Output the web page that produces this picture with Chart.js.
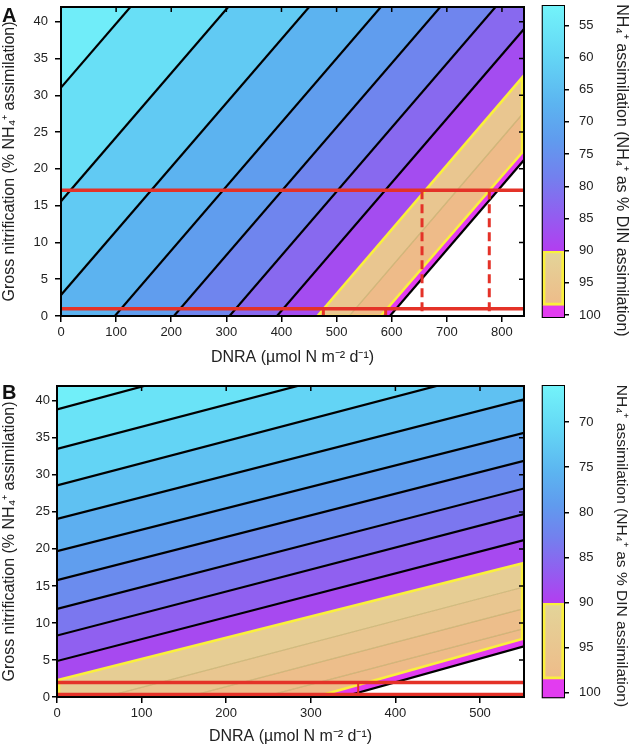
<!DOCTYPE html>
<html>
<head>
<meta charset="utf-8">
<script src="https://cdn.jsdelivr.net/npm/chart.js@4.4.1/dist/chart.umd.min.js"></script>
<style>
  html, body { margin: 0; padding: 0; background: #fff; }
  #fig { position: relative; width: 632px; height: 749px; overflow: hidden; font-family: "Liberation Sans", Arial, sans-serif; }
  #fig canvas { position: absolute; }
  .letter { position: absolute; font-weight: bold; font-size: 20px; line-height: 20px; color: #111; }
</style>
</head>
<body>
<div id="fig">
  <canvas id="plotA" width="534" height="370" style="left:0;top:0"></canvas>
  <canvas id="barA" width="102" height="345" style="left:530px;top:0"></canvas>
  <canvas id="plotB" width="534" height="370" style="left:0;top:379px"></canvas>
  <canvas id="barB" width="102" height="345" style="left:530px;top:370px"></canvas>
  <div class="letter" style="left:2px;top:5px">A</div>
  <div class="letter" style="left:2px;top:382px">B</div>
</div>
<script>
// Panel A - contour levels (% NH4+ assimilation) and the gross nitrification
// value of each contour line at DNRA = 0 and at DNRA = 840
const levelsA = [55, 60, 65, 70, 75, 80, 85, 90, 95, 98.5, 100];
const nitrifStartA = [31.05, 15.6, 2.85, -8.5, -17.8, -26.6, -34.1, -40.6, -45.7, -50.2, -52.0];
const nitrifEndA = [104.1, 88.7, 75.9, 64.6, 55.2, 46.5, 39.0, 32.7, 27.7, 22.5, 21.2];
const dnraMaxA = 840;
const redNitrifA = [17.1, 1.0];
const dropDnraA = [476, 589, 655, 777];
const dropTopA = [1.0, 1.0, 17.1, 17.1];
const dropBottomA = [0, 0, 0, 0];
const dnraTicksA = [0, 100, 200, 300, 400, 500, 600, 700, 800];
const barRangeA = [52, 100.3];
const barTicksA = [55, 60, 65, 70, 75, 80, 85, 90, 95, 100];

// Panel B - same, lines given at DNRA = 0 and DNRA = 552
const levelsB = [67.5, 70, 72.5, 75, 77.5, 80, 82.5, 85, 87.5, 90, 92.5, 95, 97.5, 98.5, 100];
const nitrifStartB = [38.84, 33.51, 28.57, 24.05, 19.69, 15.77, 11.89, 8.3, 4.86, 2.26, -1.7, -4.6, -7.3, -9.74, -10.8];
const nitrifEndB = [55.8, 50.0, 45.1, 40.19, 35.68, 31.89, 28.16, 24.69, 21.18, 18.1, 14.86, 11.95, 9.24, 7.89, 6.85];
const dnraMaxB = 552;
const redNitrifB = [1.95, 0.35];
const dropDnraB = [356];
const dropTopB = [1.95];
const dropBottomB = [0.35];
const dnraTicksB = [0, 100, 200, 300, 400, 500];
const barRangeB = [66, 100.5];
const barTicksB = [70, 75, 80, 85, 90, 95, 100];

const nitrifMax = 42;
const nitrifTicks = [0, 5, 10, 15, 20, 25, 30, 35, 40];
const orangeFrom = 90, orangeTo = 98.5;

// colours
const textColor = '#222';
const cmapStops = [
  [0, [115, 243, 250]], [0.2, [100, 215, 245]], [0.4, [92, 180, 240]],
  [0.55, [96, 155, 238]], [0.7, [115, 128, 238]], [0.85, [145, 95, 240]], [1, [178, 62, 240]]
];
const orangeTop = [227, 213, 153], orangeBottom = [238, 187, 137];
const magenta = 'rgb(226,60,240)';
const yellow = 'rgb(250,240,60)';
const red = 'rgb(228,50,40)';
const faint = 'rgba(185,165,95,0.6)';

Chart.defaults.font.family = '"Liberation Sans", Arial, Helvetica, sans-serif';

const rgb = c => `rgb(${c.map(Math.round).join(',')})`;
const mix = (a, b, t) => a.map((v, i) => v + (b[i] - v) * t);

function cmap(t) {
  t = Math.max(0, Math.min(1, t));
  for (let i = 1; i < cmapStops.length; i++) {
    const [t0, c0] = cmapStops[i - 1], [t1, c1] = cmapStops[i];
    if (t <= t1) return mix(c0, c1, (t - t0) / (t1 - t0));
  }
  return cmapStops[cmapStops.length - 1][1];
}

// lo/hi = levels bounding the band, base = bottom of the colour scale
function bandColor(lo, hi, base) {
  if (hi <= orangeFrom) return rgb(cmap(((lo + hi) / 2 - base) / (orangeFrom - base)));
  if (hi <= orangeTo) return rgb(mix(orangeTop, orangeBottom, (hi - orangeFrom) / (orangeTo - orangeFrom)));
  return magenta;
}

// keep the part of a polygon where f >= 0
function clipHalf(poly, f) {
  const out = [];
  for (let i = 0; i < poly.length; i++) {
    const a = poly[i], b = poly[(i + 1) % poly.length];
    const fa = f(a), fb = f(b);
    if (fa >= 0) out.push(a);
    if ((fa >= 0) !== (fb >= 0)) {
      const t = fa / (fa - fb);
      out.push({x: a.x + t * (b.x - a.x), y: a.y + t * (b.y - a.y)});
    }
  }
  return out;
}

const contourY = (p, k, x) => p.start[k] + (p.end[k] - p.start[k]) * x / p.xMax;

// area between contour kUp (upper-left side) and contour kDown, inside the axes box
function region(p, kUp, kDown, inset) {
  const dx = inset ? p.xMax * inset : 0;
  let poly = [{x: dx, y: 0}, {x: p.xMax - dx, y: 0}, {x: p.xMax - dx, y: nitrifMax}, {x: dx, y: nitrifMax}];
  if (kDown >= 0) poly = clipHalf(poly, q => q.y - contourY(p, kDown, q.x));
  if (kUp >= 0) poly = clipHalf(poly, q => contourY(p, kUp, q.x) - q.y);
  return poly;
}

// black frame + inward mirror ticks
function drawFrame(chart, opts) {
  const {ctx, chartArea: a} = chart;
  ctx.save();
  ctx.strokeStyle = '#000';
  ctx.lineWidth = 2;
  ctx.strokeRect(a.left, a.top, a.right - a.left, a.bottom - a.top);
  ctx.lineWidth = 1.5;
  ctx.beginPath();
  if (opts.top) {
    const sx = chart.scales.x;
    sx.ticks.forEach(t => {
      const px = sx.getPixelForValue(t.value);
      ctx.moveTo(px, a.top); ctx.lineTo(px, a.top + opts.tick);
    });
  }
  const sy = chart.scales.y;
  sy.ticks.forEach(t => {
    const py = sy.getPixelForValue(t.value);
    ctx.moveTo(a.right, py); ctx.lineTo(a.right - opts.tick, py);
  });
  ctx.stroke();
  ctx.restore();
}

const framePlugin = {
  id: 'frame',
  beforeDatasetsDraw(chart, args, opts) { if (opts.under) drawFrame(chart, opts); },
  afterDatasetsDraw(chart, args, opts) { if (!opts.under) drawFrame(chart, opts); }
};

function makePlot(id, p) {
  const datasets = [];
  const iOrangeUp = p.levels.indexOf(orangeFrom);
  const iOrangeDown = p.levels.indexOf(orangeTo);

  // filled bands
  p.levels.forEach((lev, k) => {
    const lo = k === 0 ? p.barRange[0] : p.levels[k - 1];
    const poly = region(p, k - 1, k);
    if (poly.length < 3) return;
    datasets.push({
      data: poly.concat([poly[0]]),
      backgroundColor: bandColor(lo, lev, p.barRange[0]),
      fill: 'shape', borderWidth: 0, pointRadius: 0, order: 10
    });
  });

  // contour lines
  p.levels.forEach((lev, k) => {
    if (lev === orangeFrom || lev === orangeTo) return;
    const inside = lev > orangeFrom && lev < orangeTo;
    datasets.push({
      data: [{x: 0, y: p.start[k]}, {x: p.xMax, y: p.end[k]}],
      borderColor: inside ? faint : '#000',
      borderWidth: inside ? 1.2 : 2.2,
      fill: false, pointRadius: 0, order: inside ? 6 : 5
    });
  });

  // yellow outline of the 90-98.5 % zone
  const outline = region(p, iOrangeUp, iOrangeDown, 0.004);
  datasets.push({
    data: outline.concat([outline[0]]),
    borderColor: yellow, borderWidth: 2.6, fill: false, pointRadius: 0, order: 4
  });

  // red observed range
  p.red.forEach(v => {
    datasets.push({
      data: [{x: 0, y: v}, {x: p.xMax, y: v}],
      borderColor: red, borderWidth: 3.5, fill: false, pointRadius: 0, order: 2
    });
  });
  p.drops.forEach((x, i) => {
    datasets.push({
      data: [{x: x, y: p.dropTop[i]}, {x: x, y: p.dropBottom[i]}],
      borderColor: red, borderWidth: p.dashed ? 3 : 2,
      borderDash: p.dashed ? [9, 5] : [],
      fill: false, pointRadius: 0, order: 1
    });
  });

  return new Chart(document.getElementById(id), {
    type: 'line',
    data: {datasets},
    options: {
      responsive: false,
      animation: false,
      events: [],
      layout: {padding: p.pad},
      scales: {
        x: {
          type: 'linear', min: 0, max: p.xMax,
          afterBuildTicks: s => { s.ticks = p.xTicks.map(v => ({value: v})); },
          ticks: {color: textColor, font: {size: 13}, padding: 3, maxRotation: 0, autoSkip: false},
          grid: {drawOnChartArea: false, tickLength: 6, color: '#000', lineWidth: 1.5},
          border: {display: false},
          title: {display: true, text: 'DNRA (µmol N m⁻² d⁻¹)', color: textColor, font: {size: 16}, padding: {top: 0, bottom: 3}},
          afterFit: s => { s.height = p.xHeight; s.paddingLeft = 0; s.paddingRight = 0; }
        },
        y: {
          type: 'linear', min: 0, max: nitrifMax,
          afterBuildTicks: s => { s.ticks = nitrifTicks.map(v => ({value: v})); },
          ticks: {color: textColor, font: {size: 13}, padding: p.yTickPad},
          grid: {drawOnChartArea: false, tickLength: p.yTickLen, color: '#000', lineWidth: 1.5},
          border: {display: false},
          title: {display: true, text: 'Gross nitrification (% NH₄⁺ assimilation)', color: textColor, font: {size: 16}, padding: {top: 0, bottom: 0}},
          afterFit: s => { s.width = p.yWidth; s.paddingTop = 0; s.paddingBottom = 0; }
        }
      },
      plugins: {
        legend: {display: false},
        tooltip: {enabled: false},
        frame: {under: false, tick: 5, top: true}
      }
    },
    plugins: [framePlugin]
  });
}

function makeBar(id, p) {
  const [lo, hi] = p.barRange;
  const scaleGrad = (c, from, to, stops) => {
    const ch = c.chart;
    if (!ch.chartArea) return 'transparent';
    const y = ch.scales.y;
    const g = ch.ctx.createLinearGradient(0, y.getPixelForValue(from), 0, y.getPixelForValue(to));
    stops.forEach(([t, col]) => g.addColorStop(t, rgb(col)));
    return g;
  };
  return new Chart(document.getElementById(id), {
    type: 'bar',
    data: {
      labels: [''],
      datasets: [
        {data: [[lo, orangeFrom]], borderWidth: 0,
         backgroundColor: c => scaleGrad(c, lo, orangeFrom, cmapStops)},
        {data: [[orangeFrom, orangeTo]], borderColor: yellow, borderWidth: 3, borderSkipped: false,
         backgroundColor: c => scaleGrad(c, orangeFrom, orangeTo, [[0, orangeTop], [1, orangeBottom]])},
        {data: [[orangeTo, hi]], borderWidth: 0, backgroundColor: magenta}
      ]
    },
    options: {
      responsive: false,
      animation: false,
      events: [],
      layout: {padding: p.barPad},
      datasets: {bar: {barPercentage: 1, categoryPercentage: 1, grouped: false}},
      scales: {
        x: {display: false},
        y: {
          position: 'right', reverse: true, min: lo, max: hi,
          afterBuildTicks: s => { s.ticks = p.barTicks.map(v => ({value: v})); },
          ticks: {color: textColor, font: {size: 13}, padding: 10},
          grid: {drawOnChartArea: false, tickLength: 5, color: '#000', lineWidth: 1.5},
          border: {display: false},
          title: {display: true, text: p.barTitle, color: textColor, font: {size: p.barTitleSize}, padding: {top: 1, bottom: 0}},
          afterFit: s => { s.width = 68; s.paddingTop = 0; s.paddingBottom = 0; }
        }
      },
      plugins: {
        legend: {display: false},
        tooltip: {enabled: false},
        frame: {under: true, tick: 4, top: false}
      }
    },
    plugins: [framePlugin]
  });
}

const barTitle = 'NH₄⁺ assimilation (NH₄⁺ as % DIN assimilation)';

const panelA = {
  levels: levelsA, start: nitrifStartA, end: nitrifEndA, xMax: dnraMaxA,
  xTicks: dnraTicksA, barRange: barRangeA, barTicks: barTicksA,
  red: redNitrifA, drops: dropDnraA, dropTop: dropTopA, dropBottom: dropBottomA, dashed: true,
  pad: {top: 7, right: 10, left: 0, bottom: 0}, yWidth: 61, xHeight: 54, yTickLen: 6, yTickPad: 7,
  barPad: {left: 12.7, top: 6, right: 0, bottom: 28},
  barTitle: '    ' + barTitle, barTitleSize: 16
};
const panelB = {
  levels: levelsB, start: nitrifStartB, end: nitrifEndB, xMax: dnraMaxB,
  xTicks: dnraTicksB, barRange: barRangeB, barTicks: barTicksB,
  red: redNitrifB, drops: dropDnraB, dropTop: dropTopB, dropBottom: dropBottomB, dashed: false,
  pad: {top: 7, right: 10, left: 0, bottom: 0}, yWidth: 57, xHeight: 52, yTickLen: 5, yTickPad: 2,
  barPad: {left: 12.7, top: 16, right: 0, bottom: 17.7},
  barTitle: '  ' + barTitle, barTitleSize: 15.5
};

makePlot('plotA', panelA);
makeBar('barA', panelA);
makePlot('plotB', panelB);
makeBar('barB', panelB);
</script>
</body>
</html>
